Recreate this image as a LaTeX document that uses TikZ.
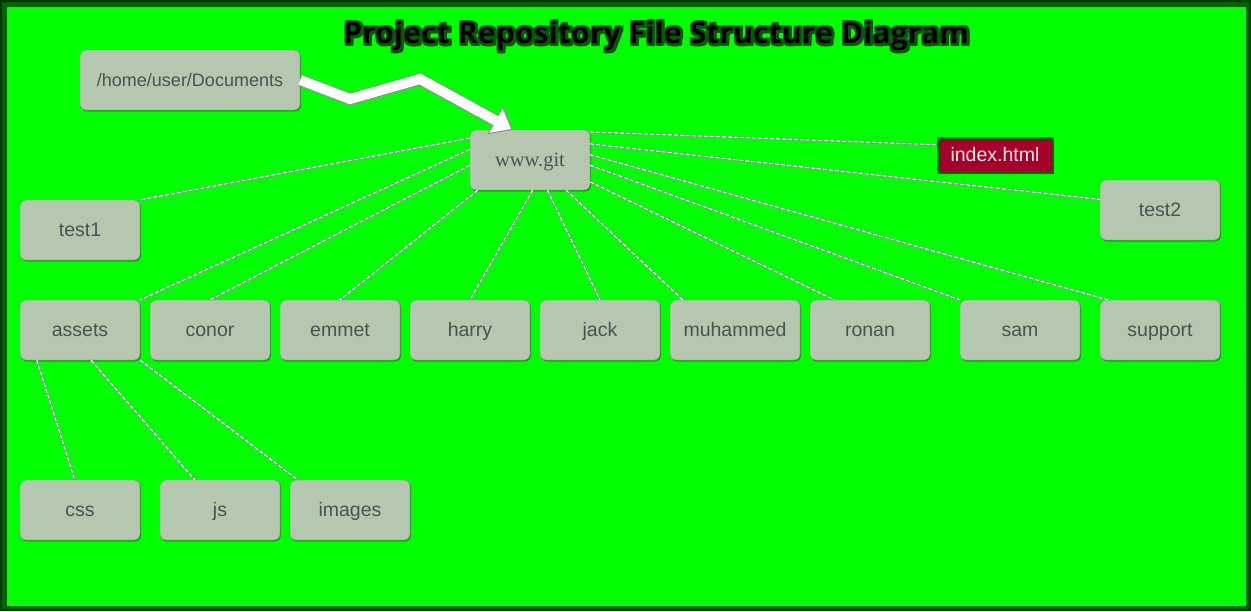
\documentclass[tikz,border=0pt]{standalone}
\usepackage{fontspec}
\setmainfont{Liberation Sans}
\newfontfamily\serifface{Liberation Serif}
\newfontfamily\titleface{Open Sans}
\usetikzlibrary{arrows.meta,positioning,shadows}

\definecolor{bggreen}{RGB}{0,255,0}
\definecolor{framegreen}{RGB}{0,100,0}
\definecolor{darkframe}{RGB}{0,55,0}
\definecolor{boxfill}{RGB}{181,199,174}
\definecolor{boxtext}{RGB}{70,84,84}
\definecolor{boxline}{RGB}{128,138,134}
\definecolor{filered}{RGB}{165,0,42}
\definecolor{shadegreen}{RGB}{0,92,0}
\definecolor{linkgray}{RGB}{140,140,158}

\begin{document}
\begin{tikzpicture}[x=1pt, y=-1pt]
    \tikzstyle{folder} = [rectangle, draw=boxline, fill=boxfill, text=boxtext, rounded corners=6pt, minimum width=120pt, minimum height=60pt, inner sep=0pt, text height=13pt, text depth=1pt, font=\fontsize{19.5}{22}\selectfont, drop shadow={shadow xshift=1pt, shadow yshift=-1.5pt, opacity=0.3, fill=black}]
    \tikzstyle{link} = [draw=linkgray, line width=2pt, postaction={draw=white, line width=0.9pt, dash pattern=on 4pt off 2pt}]
    \tikzstyle{titletext} = [font=\titleface\bfseries\fontsize{30.3}{32}\selectfont, inner sep=0pt, text height=22pt, text depth=0pt]

    % frame and background
    \fill[darkframe] (0,0) rectangle (1251,611);
    \fill[framegreen] (2,2) rectangle (1249,609);
    \fill[bggreen] (7,7) rectangle (1246,606);

    % title with its dark green shade
    \foreach \dx in {-2,0,2} {
        \foreach \dy in {-2,0,2} {
            \node[titletext, text=shadegreen] (shade\dx\dy) at (657+\dx,33+\dy) {Project Repository File Structure Diagram};
        }
    }
    \node[titletext, text=black] (title) at (656,32) {Project Repository File Structure Diagram};

    \node[folder, minimum width=220pt, font=\fontsize{18}{22}\selectfont] (docs) at (190,80) {/home/user/Documents};
    \node[folder, font=\serifface\fontsize{20.5}{22}\selectfont] (git) at (530,160) {www.git};
    \node[rectangle, fill=filered, draw=framegreen, line width=3pt, text=pink!25, minimum width=114pt, minimum height=34pt, inner sep=0pt, text height=13pt, text depth=1pt, font=\fontsize{19.5}{22}\selectfont] (index) at (995,155) {index.html};
    \node[folder] (test1) at (80,230) {test1};
    \node[folder] (test2) at (1160,210) {test2};

    % sub folders of www.git
    \node[folder] (assets) at (80,330) {assets};
    \node[folder, right=9.6pt of assets] (conor) {conor};
    \node[folder, right=9.6pt of conor] (emmet) {emmet};
    \node[folder, right=9.6pt of emmet] (harry) {harry};
    \node[folder, right=9.6pt of harry] (jack) {jack};
    \node[folder, right=9.6pt of jack, minimum width=130pt] (muhammed) {muhammed};
    \node[folder, right=9.6pt of muhammed] (ronan) {ronan};
    \node[folder, right=29.6pt of ronan] (sam) {sam};
    \node[folder, right=19.6pt of sam] (support) {support};

    % sub folders of assets
    \node[folder] (css) at (80,510) {css};
    \node[folder, right=19.6pt of css] (js) {js};
    \node[folder, right=9.6pt of js] (images) {images};

    \draw[link] (git.160) -- (test1.north east);
    \draw[link] (git.170) -- (assets.north east);
    \draw[link] (git.185) -- (conor.north);
    \draw[link] (git.210) -- (emmet.north);
    \draw[link] (git.275) -- (harry.north);
    \draw[link] (git.300) -- (jack.north);
    \draw[link] (git.320) -- (muhammed.150);
    \draw[link] (git.340) -- (ronan.140);
    \draw[link] (git.355) -- (sam.north west);
    \draw[link] (git.5) -- (support.150);
    \draw[link] (git.15) -- (test2.170);
    \draw[link] (git.25) -- (index.170);

    \draw[link] (assets.215) -- (css.100);
    \draw[link] (assets.290) -- (js.130);
    \draw[link] (assets.south east) -- (images.150);

    % fat arrow into www.git
    \draw[linkgray, line width=12pt, shorten >=14pt] (docs.east) -- (350,99) -- (420,79) -- (git.120);
    \draw[linkgray, line width=1pt, -{Triangle[length=20pt,width=32pt,fill=white]}] (420,79) -- (git.120);
    \draw[white, line width=10pt, shorten >=14pt] (docs.east) -- (350,99) -- (420,79) -- (git.120);
\end{tikzpicture}
\end{document}
